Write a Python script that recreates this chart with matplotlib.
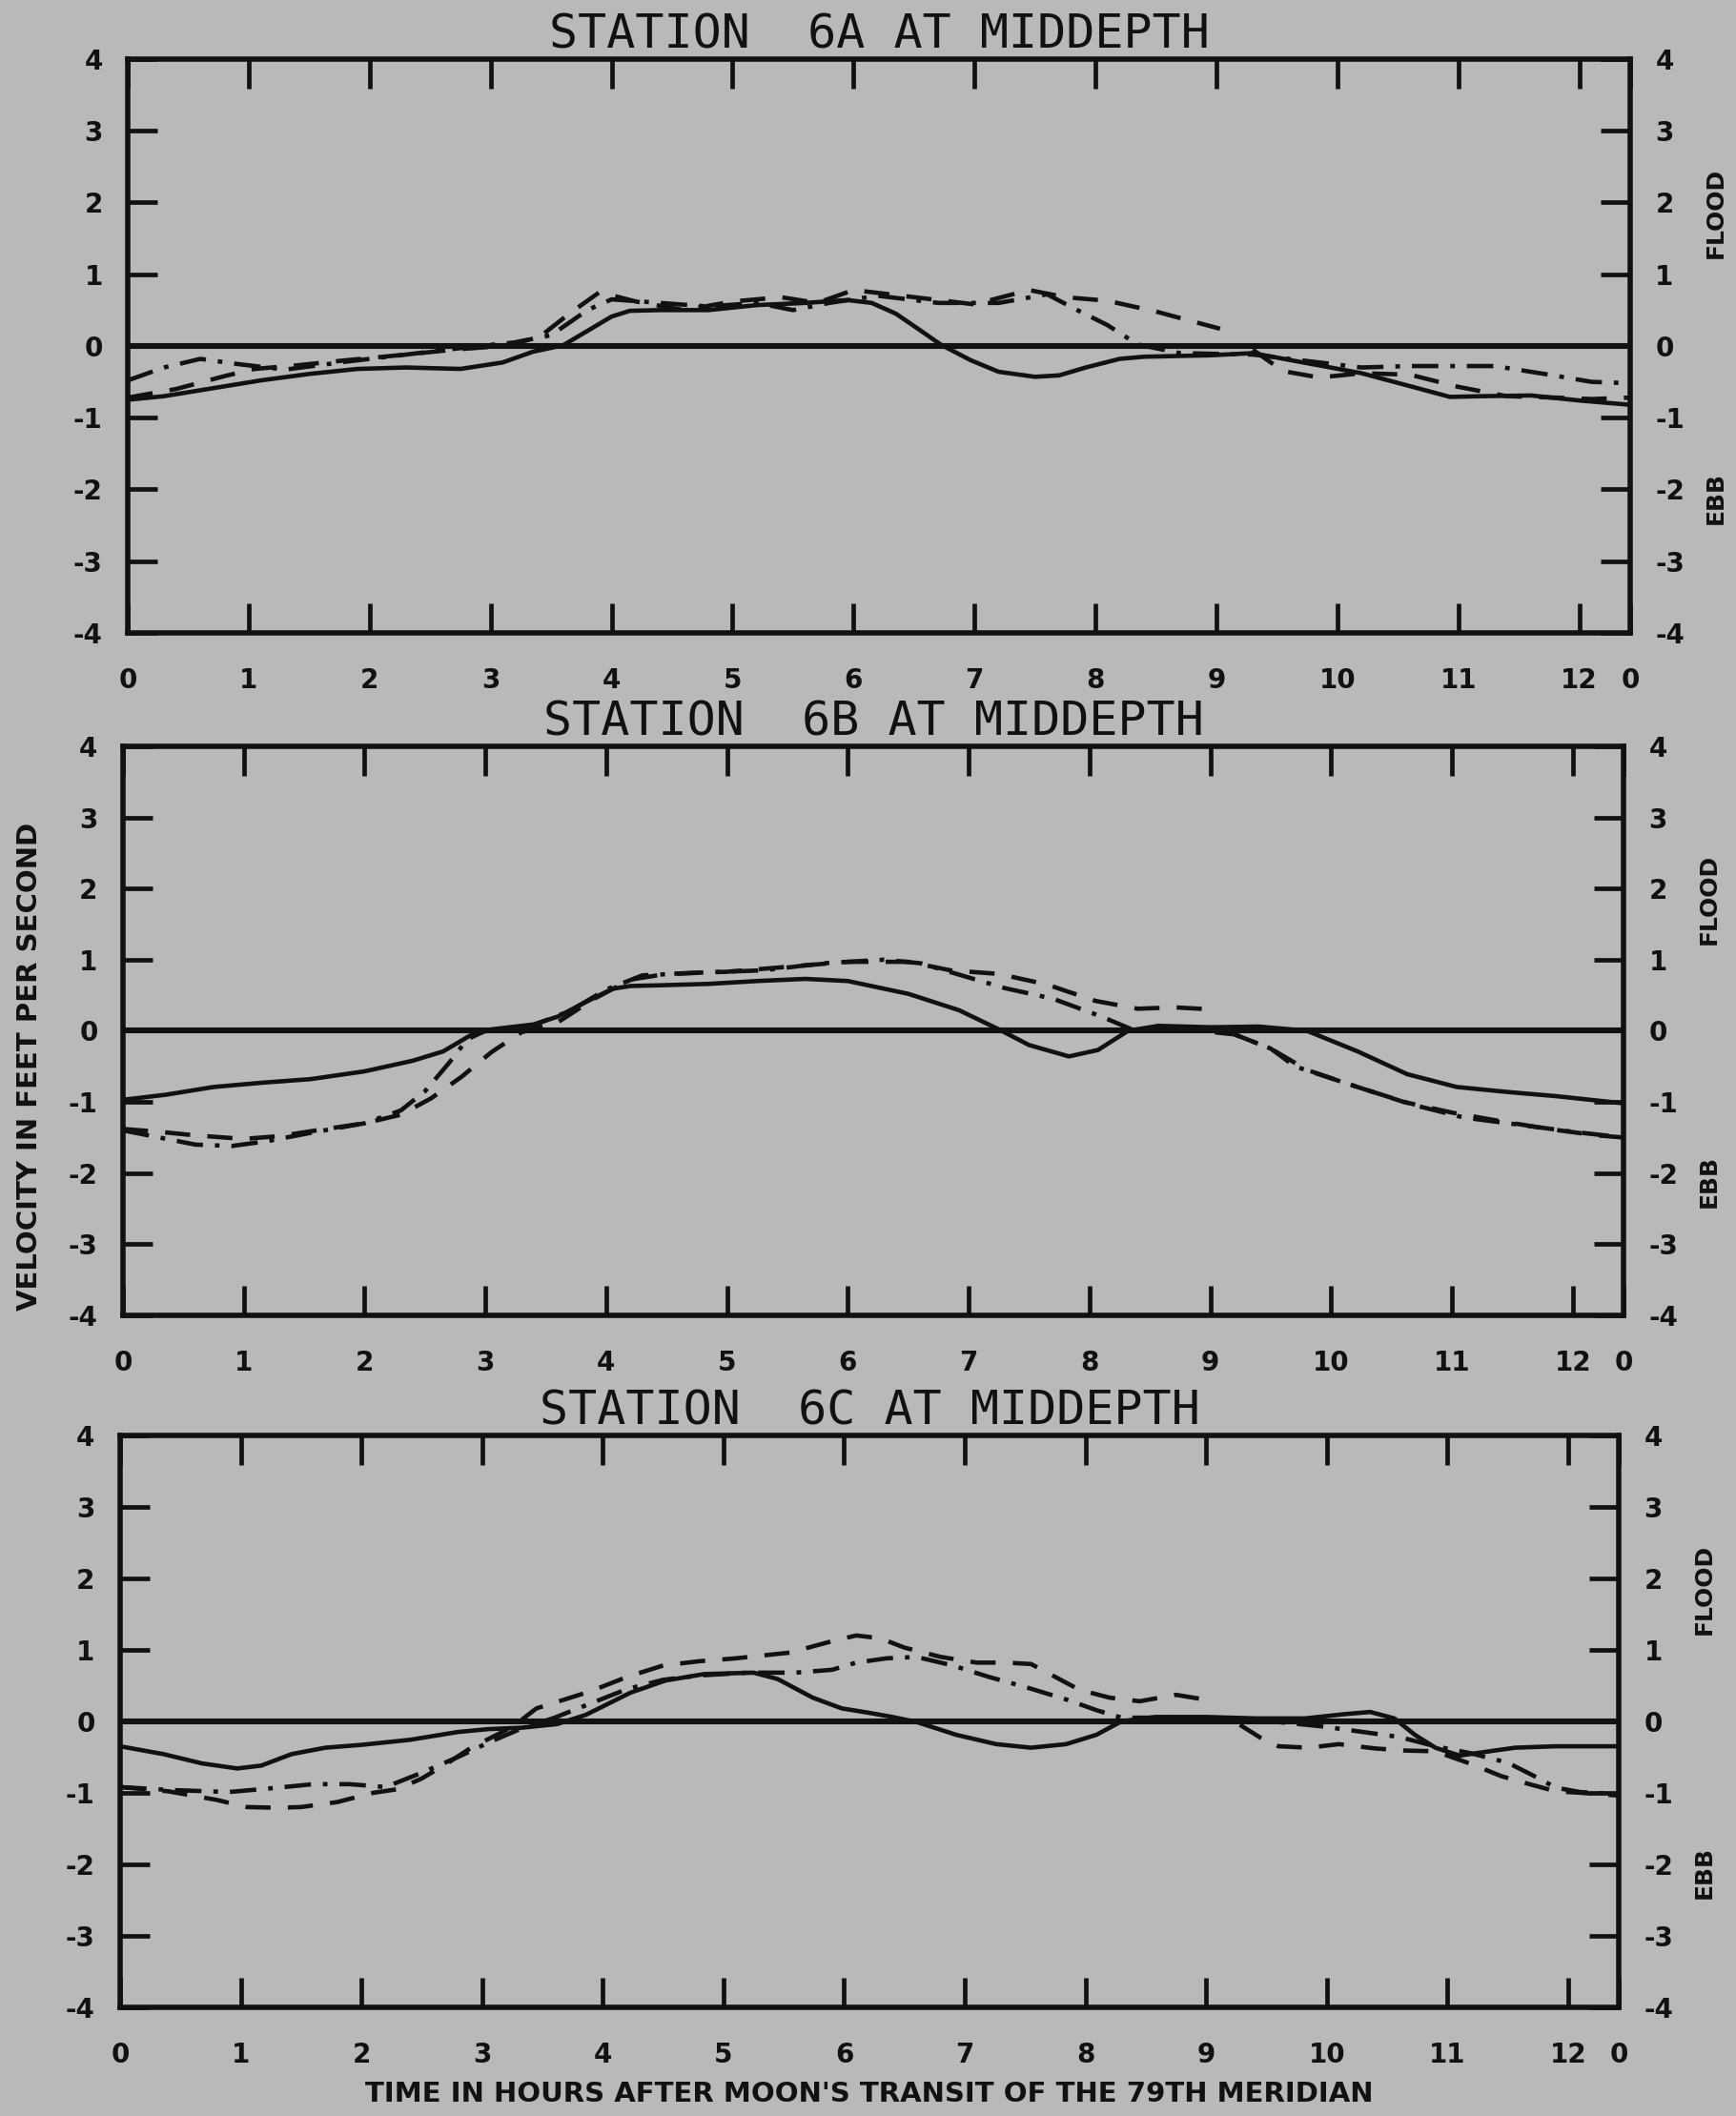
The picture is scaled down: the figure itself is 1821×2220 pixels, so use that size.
import numpy as np
import matplotlib
matplotlib.use("Agg")
import matplotlib.pyplot as plt
import matplotlib.transforms as mtransforms

# hours after moon's transit, velocity in ft/s
nan = np.nan
PERIOD = 12.42

# --- station 6A ---
a_solid_h = [0, 0.3, 0.7, 1.1, 1.5, 1.9, 2.3, 2.75, 3.1, 3.35, 3.6, 3.8, 4.0, 4.15, 4.4, 4.8, 5.2, 5.6, 5.95, 6.15,
             6.35, 6.55, 6.72, 6.97, 7.2, 7.5, 7.7, 7.92, 8.2, 8.4, 8.95, 9.3, 9.75, 10.2, 10.6, 10.93, 11.2, 11.6, 12.0, 12.42]
a_solid_v = [-0.75, -0.70, -0.59, -0.48, -0.39, -0.32, -0.30, -0.32, -0.23, -0.08, 0.01, 0.21, 0.41, 0.49, 0.50, 0.50, 0.57, 0.60, 0.64, 0.60,
             0.45, 0.22, 0.02, -0.2, -0.36, -0.43, -0.41, -0.30, -0.18, -0.15, -0.13, -0.10, -0.24, -0.38, -0.56, -0.71, -0.70, -0.69, -0.76, -0.82]
a_dash_h = [0, 0.4, 0.8, 1.05, 1.4, 1.8, 2.3, 2.7, 3.1, 3.4, 3.65, 3.9, 4.2, 4.6, 5.0, 5.4, 5.7, 6.0, 6.5, 7.0,
            7.45, 7.75, 8.1, 8.5, 9.03, nan, 9.3, 9.55, 9.85, 10.2, 10.6, 11.0, 11.4, 11.8, 12.1, 12.42]
a_dash_v = [-0.72, -0.6, -0.42, -0.32, -0.27, -0.2, -0.12, -0.05, 0.0, 0.12, 0.45, 0.75, 0.62, 0.5, 0.62, 0.68, 0.6, 0.78, 0.68, 0.58,
            0.78, 0.68, 0.63, 0.48, 0.24, nan, -0.05, -0.35, -0.44, -0.38, -0.4, -0.57, -0.7, -0.72, -0.74, -0.72]
a_dashdot_h = [0, 0.3, 0.6, 0.9, 1.3, 1.8, 2.3, 2.8, 3.2, 3.5, 3.8, 4.0, 4.4, 4.8, 5.2, 5.5, 5.8, 6.2, 6.7, 7.2,
               7.6, 7.85, 8.1, 8.35, 8.7, 9.3, 9.7, 10.2, 10.6, 11.3, 11.75, 12.1, 12.42]
a_dashdot_v = [-0.48, -0.3, -0.18, -0.25, -0.33, -0.22, -0.12, -0.02, 0.05, 0.15, 0.5, 0.65, 0.6, 0.55, 0.6, 0.5, 0.6, 0.7, 0.6, 0.6,
               0.72, 0.5, 0.29, 0.02, -0.1, -0.12, -0.2, -0.3, -0.28, -0.28, -0.4, -0.5, -0.52]

# --- station 6B ---
b_solid_h = [0, 0.35, 0.75, 1.15, 1.55, 2.0, 2.4, 2.65, 2.87, 3.05, 3.4, 3.6, 3.85, 4.05, 4.2, 4.45, 4.85, 5.25, 5.65, 6.0,
             6.5, 6.92, 7.25, 7.5, 7.83, 8.07, 8.32, 8.57, 9.0, 9.4, 9.8, 10.22, 10.63, 11.04, 11.46, 11.87, 12.42]
b_solid_v = [-0.97, -0.9, -0.79, -0.73, -0.68, -0.57, -0.42, -0.29, -0.07, 0.02, 0.09, 0.2, 0.42, 0.59, 0.63, 0.64, 0.66, 0.7, 0.73, 0.70,
             0.52, 0.29, 0.02, -0.2, -0.36, -0.27, 0.0, 0.07, 0.05, 0.06, 0.0, -0.29, -0.61, -0.79, -0.86, -0.92, -1.02]
b_dash_h = [0, 0.3, 0.6, 1.0, 1.3, 1.6, 2.0, 2.3, 2.55, 2.8, 3.05, 3.3, 3.6, 3.9, 4.2, 4.5, 5.0, 5.5, 6.0, 6.5,
            6.85, 7.25, 7.65, 8.05, 8.4, 8.7, 9.02, nan, 9.2, 9.5, 9.8, 10.2, 10.6, 11.0, 11.4, 11.8, 12.2, 12.42]
b_dash_v = [-1.38, -1.42, -1.47, -1.52, -1.48, -1.4, -1.3, -1.18, -0.95, -0.65, -0.3, -0.02, 0.12, 0.45, 0.72, 0.8, 0.83, 0.9, 0.97, 0.97,
            0.85, 0.8, 0.65, 0.42, 0.31, 0.33, 0.3, nan, -0.05, -0.25, -0.55, -0.78, -1.0, -1.15, -1.27, -1.38, -1.47, -1.5]
b_dashdot_h = [0, 0.3, 0.6, 0.9, 1.2, 1.6, 2.0, 2.3, 2.5, 2.7, 2.85, 3.0, 3.4, 3.7, 4.0, 4.3, 4.8, 5.3, 5.8, 6.3,
               6.6, 6.9, 7.3, 7.7, 8.1, 8.35, 8.8, 9.2, 9.5, 9.7, 10.2, 10.7, 11.1, 11.6, 12.0, 12.42]
b_dashdot_v = [-1.4, -1.5, -1.6, -1.62, -1.55, -1.42, -1.3, -1.12, -0.85, -0.45, -0.12, 0.0, 0.08, 0.28, 0.58, 0.78, 0.82, 0.85, 0.95, 1.0,
               0.95, 0.8, 0.6, 0.45, 0.2, 0.02, 0.02, -0.05, -0.25, -0.5, -0.78, -1.05, -1.22, -1.33, -1.42, -1.5]

# --- station 6C ---
c_solid_h = [0, 0.36, 0.68, 0.97, 1.17, 1.42, 1.7, 2.0, 2.4, 2.8, 3.05, 3.33, 3.62, 3.86, 4.23, 4.52, 4.84, 5.25, 5.45, 5.74,
             5.98, 6.2, 6.4, 6.6, 6.93, 7.26, 7.55, 7.84, 8.09, 8.3, 8.58, 9.0, 9.41, 9.82, 10.15, 10.36, 10.56, 10.73, 10.9, 11.1,
             11.39, 11.56, 11.89, 12.42]
c_solid_v = [-0.35, -0.46, -0.59, -0.66, -0.62, -0.46, -0.37, -0.33, -0.26, -0.15, -0.11, -0.09, -0.04, 0.09, 0.4, 0.57, 0.66, 0.68, 0.59, 0.33,
             0.18, 0.12, 0.06, -0.01, -0.19, -0.32, -0.37, -0.32, -0.19, 0.0, 0.06, 0.06, 0.04, 0.04, 0.1, 0.13, 0.04, -0.19, -0.37, -0.48,
             -0.41, -0.37, -0.35, -0.35]
c_dash_h = [0, 0.4, 0.8, 1.05, 1.3, 1.5, 1.8, 2.1, 2.3, 2.5, 2.7, 2.9, 3.05, 3.25, 3.45, 3.9, 4.2, 4.5, 4.8, 5.1,
            5.55, 5.9, 6.1, 6.3, 6.5, 6.8, 7.1, 7.35, 7.55, 7.75, 7.95, 8.2, 8.45, 8.75, 9.0, nan, 9.28, 9.45, 9.6, 9.85,
            10.1, 10.4, 10.65, 10.9, 11.2, 11.45, 11.7, 11.9, 12.1, 12.42]
c_dash_v = [-0.92, -0.98, -1.1, -1.2, -1.21, -1.2, -1.13, -1.0, -0.95, -0.8, -0.6, -0.38, -0.25, -0.08, 0.18, 0.42, 0.62, 0.78, 0.84, 0.88,
            0.96, 1.12, 1.2, 1.16, 1.03, 0.9, 0.82, 0.82, 0.8, 0.62, 0.44, 0.33, 0.28, 0.37, 0.3, nan, -0.05, -0.23, -0.35, -0.37,
            -0.32, -0.38, -0.41, -0.42, -0.6, -0.77, -0.89, -0.98, -1.0, -1.04]
c_dashdot_h = [0, 0.4, 0.9, 1.3, 1.6, 1.9, 2.2, 2.5, 2.8, 3.05, 3.3, 3.6, 3.9, 4.2, 4.5, 4.8, 5.2, 5.6, 5.9, 6.1,
               6.35, 6.6, 6.9, 7.2, 7.5, 7.85, 8.1, 8.3, 8.7, 9.3, 9.95, 10.3, 10.6, 10.9, 11.2, 11.5, 11.7, 11.9, 12.1, 12.42]
c_dashdot_v = [-0.92, -0.96, -0.99, -0.93, -0.88, -0.88, -0.92, -0.72, -0.5, -0.3, -0.12, 0.05, 0.25, 0.45, 0.58, 0.64, 0.68, 0.68, 0.72, 0.82,
               0.88, 0.9, 0.78, 0.62, 0.48, 0.3, 0.15, 0.05, 0.05, 0.04, -0.07, -0.15, -0.22, -0.35, -0.45, -0.58, -0.75, -0.93, -0.99, -1.02]

titles = ["STATION  6A AT MIDDEPTH", "STATION  6B AT MIDDEPTH", "STATION  6C AT MIDDEPTH"]
x_ticks = list(range(13)) + [PERIOD]
x_labels = [str(i) for i in range(13)] + ["0"]
y_ticks = list(range(-4, 5))

panels = [
    (a_solid_h, a_solid_v, a_dash_h, a_dash_v, a_dashdot_h, a_dashdot_v),
    (b_solid_h, b_solid_v, b_dash_h, b_dash_v, b_dashdot_h, b_dashdot_v),
    (c_solid_h, c_solid_v, c_dash_h, c_dash_v, c_dashdot_h, c_dashdot_v),
]
# axes boxes in figure fractions (left, bottom, width, height)
rects = [
    [0.0736, 0.7009, 0.8654, 0.2712],
    [0.0708, 0.3784, 0.8644, 0.2689],
    [0.0692, 0.0514, 0.8633, 0.2703],
]

bg = "#b8b9bb"
ink = "#111111"
plt.rcParams["lines.scale_dashes"] = False
plt.rcParams["font.family"] = "DejaVu Sans"
plt.rcParams["font.weight"] = "bold"

fig = plt.figure(figsize=(18.21, 22.20), dpi=100, facecolor=bg)

for rect, title, (sh, sv, dh, dv, ddh, ddv) in zip(rects, titles, panels):
    ax = fig.add_axes(rect, facecolor=bg)
    ax.axhline(0, color=ink, lw=4.4, zorder=2)
    ax.plot(sh, sv, color=ink, lw=3.3, solid_joinstyle="round", zorder=3)
    ax.plot(dh, dv, color=ink, lw=3.3, ls=(0, (19, 13)), zorder=3)
    ax.plot(ddh, ddv, color=ink, lw=3.3, ls=(0, (20, 9, 3.5, 9)), zorder=3)

    ax.set_xlim(0, PERIOD)
    ax.set_ylim(-4, 4)
    ax.set_xticks(x_ticks)
    ax.set_xticklabels(x_labels)
    ax.set_yticks(y_ticks)
    ax.set_yticklabels([str(t) for t in y_ticks])
    ax.tick_params(direction="in", length=22, width=3.4, colors=ink, labelsize=20)
    ax.tick_params(axis="x", top=True, pad=26)
    ax.tick_params(axis="y", right=True, labelright=True, pad=19)
    for sp in ax.spines.values():
        sp.set_linewidth(4.0)
        sp.set_color(ink)

    ax.text(0.5, 1.003, title, transform=ax.transAxes, ha="center", va="bottom",
            family="DejaVu Sans Mono", fontweight="normal", fontsize=36, color=ink)

    trans = mtransforms.blended_transform_factory(ax.transAxes, ax.transData)
    ax.text(1.057, 1.85, "FLOOD", transform=trans, rotation=90, ha="center", va="center",
            fontsize=18, color=ink)
    ax.text(1.057, -2.12, "EBB", transform=trans, rotation=90, ha="center", va="center",
            fontsize=18, color=ink)

fig.text(0.017, 0.496, "VELOCITY IN FEET PER SECOND", rotation=90, ha="center", va="center",
         fontsize=21, color=ink)
fig.text(0.5008, 0.0104, "TIME IN HOURS AFTER MOON'S TRANSIT OF THE 79TH MERIDIAN",
         ha="center", va="center", fontsize=21, color=ink)

fig.savefig("out.png", dpi=100, facecolor=bg)
